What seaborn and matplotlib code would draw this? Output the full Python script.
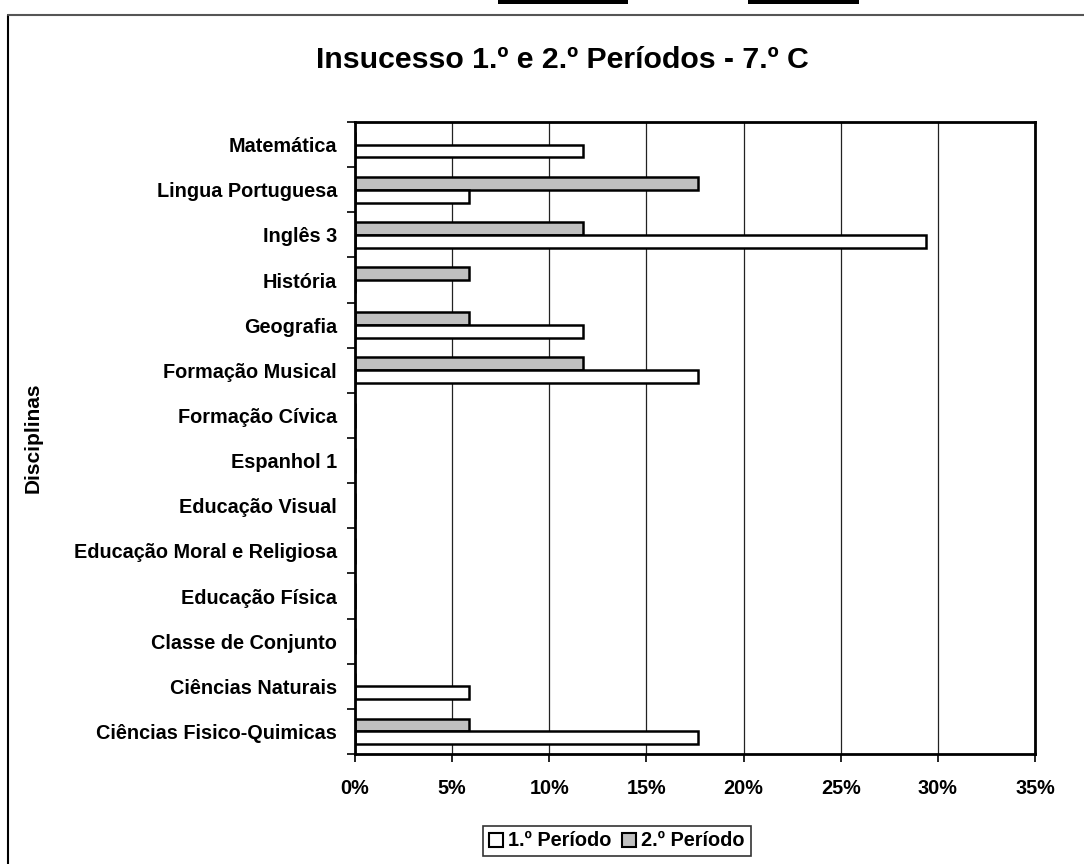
import numpy as np
import pandas as pd
import matplotlib
matplotlib.use("Agg")
import matplotlib.pyplot as plt
from matplotlib.patches import Patch, Rectangle
from matplotlib.lines import Line2D
from matplotlib.ticker import FuncFormatter
import seaborn as sns

# Chart data (percent of students failing)
disciplinas = [
    "Matemática",
    "Lingua Portuguesa",
    "Inglês 3",
    "História",
    "Geografia",
    "Formação Musical",
    "Formação Cívica",
    "Espanhol 1",
    "Educação Visual",
    "Educação Moral e Religiosa",
    "Educação Física",
    "Classe de Conjunto",
    "Ciências Naturais",
    "Ciências Fisico-Quimicas",
]
periodo_1 = [11.76, 5.88, 29.41, 0, 11.76, 17.65, 0, 0, 0, 0, 0, 0, 5.88, 17.65]
periodo_2 = [0, 17.65, 11.76, 5.88, 5.88, 11.76, 0, 0, 0, 0, 0, 0, 0, 5.88]
series_names = ["1.º Período", "2.º Período"]
x_ticks = [0, 5, 10, 15, 20, 25, 30, 35]


def main():
    sns.set_theme(style="white")
    plt.rcParams["font.family"] = ["Liberation Sans", "DejaVu Sans"]
    plt.rcParams["font.weight"] = "bold"
    plt.rcParams["text.color"] = "black"
    plt.rcParams["xtick.color"] = "black"
    plt.rcParams["ytick.color"] = "black"
    plt.rcParams["axes.labelcolor"] = "black"

    df = pd.DataFrame({
        "Disciplina": disciplinas,
        series_names[0]: periodo_1,
        series_names[1]: periodo_2,
    })
    long_df = df.melt(id_vars="Disciplina", var_name="Periodo", value_name="Valor")

    colors = {series_names[0]: "#FFFFFF", series_names[1]: "#C0C0C0"}

    fig = plt.figure(figsize=(10.84, 8.64), dpi=100)
    ax = fig.add_axes([355 / 1084, 1 - 754 / 864, 680 / 1084, 632 / 864])

    # 2.º first so it sits above 1.º inside each category band
    sns.barplot(
        data=long_df,
        y="Disciplina",
        x="Valor",
        hue="Periodo",
        order=disciplinas,
        hue_order=[series_names[1], series_names[0]],
        palette=colors,
        width=0.5714,
        edgecolor="black",
        linewidth=1.8,
        errorbar=None,
        legend=False,
        orient="h",
        ax=ax,
    )

    n = len(disciplinas)
    ax.set_xlim(0, 35)
    ax.set_ylim(n - 0.5, -0.5)
    ax.set_xticks(x_ticks)
    ax.xaxis.set_major_formatter(FuncFormatter(lambda v, p: f"{v:.0f}%"))
    ax.set_xlabel("")
    ax.set_ylabel("")

    # category labels centred, tick marks on band borders
    ax.set_yticks(range(n))
    ax.set_yticklabels(disciplinas)
    ax.set_yticks(np.arange(-0.5, n, 1), minor=True)
    ax.tick_params(axis="y", which="major", length=0, pad=13, labelsize=14.3,
                   labelcolor="black")
    ax.tick_params(axis="y", which="minor", direction="out", length=6,
                   width=1.2, color="black", left=True)
    ax.tick_params(axis="x", which="major", direction="out", length=6,
                   width=1.2, color="black", bottom=True, pad=12, labelsize=14.3,
                   labelcolor="black")

    ax.xaxis.grid(True, color="#222222", linewidth=0.9)
    ax.set_axisbelow(True)
    for side in ["left", "right", "top", "bottom"]:
        ax.spines[side].set_visible(True)
        ax.spines[side].set_color("black")
        ax.spines[side].set_linewidth(2)

    # titles
    fig.text(562 / 1084, 1 - 68 / 864, "Insucesso 1.º e 2.º Períodos - 7.º C",
             ha="center", va="baseline", fontsize=21.8, fontweight="bold",
             color="black")
    fig.text(33 / 1084, 1 - 438 / 864, "Disciplinas", rotation=90,
             ha="center", va="center", fontsize=15, fontweight="bold",
             color="black")

    # legend
    handles = [
        Patch(facecolor=colors[s], edgecolor="black", linewidth=1.5)
        for s in series_names
    ]
    leg = fig.legend(
        handles, series_names,
        loc="center", bbox_to_anchor=(617 / 1084, 1 - 841 / 864),
        ncol=2, frameon=True, fancybox=False, fontsize=14.3,
        handlelength=0.7, handleheight=0.7, handletextpad=0.25,
        columnspacing=0.55, borderpad=0.3,
    )
    leg.get_frame().set_edgecolor("black")
    leg.get_frame().set_linewidth(1.2)

    # outer chart frame and the black marks at the top edge
    fig.add_artist(Line2D([8 / 1084, 8 / 1084], [0, 1 - 15 / 864],
                          transform=fig.transFigure, color="black", lw=1.5))
    fig.add_artist(Line2D([8 / 1084, 1], [1 - 15 / 864, 1 - 15 / 864],
                          transform=fig.transFigure, color="#555555", lw=1.5))
    fig.add_artist(Rectangle((498 / 1084, 1 - 4 / 864), 130 / 1084, 4 / 864,
                             transform=fig.transFigure, color="black", lw=0))
    fig.add_artist(Rectangle((748 / 1084, 1 - 4 / 864), 111 / 1084, 4 / 864,
                             transform=fig.transFigure, color="black", lw=0))

    fig.savefig("out.png", dpi=100)


if __name__ == "__main__":
    main()
